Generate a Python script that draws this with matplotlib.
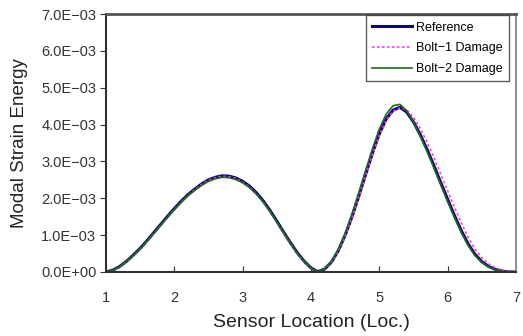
import numpy as np
import matplotlib
matplotlib.use("Agg")
import matplotlib.pyplot as plt

plt.rcParams['font.family'] = ['Liberation Sans', 'DejaVu Sans']

# sensor locations 1.0 .. 7.0 in steps of 0.1
loc = [round(1.0 + 0.1 * i, 1) for i in range(61)]

# modal strain energy (x 1e-3)
reference = [0.00, 0.05, 0.15, 0.29, 0.46, 0.64, 0.85, 1.07, 1.29, 1.51,
             1.72, 1.92, 2.10, 2.25, 2.39, 2.50, 2.57, 2.61, 2.60, 2.55,
             2.46, 2.33, 2.15, 1.93, 1.67, 1.38, 1.08, 0.79, 0.52, 0.29,
             0.11, 0.01, 0.08, 0.27, 0.58, 1.00, 1.50, 2.06, 2.65, 3.23,
             3.75, 4.15, 4.39, 4.47, 4.34, 4.07, 3.72, 3.32, 2.88, 2.42,
             1.97, 1.53, 1.12, 0.76, 0.48, 0.28, 0.15, 0.07, 0.02, 0.00,
             0.00]
bolt1 = [0.00, 0.04, 0.13, 0.27, 0.44, 0.62, 0.83, 1.05, 1.27, 1.49,
         1.70, 1.90, 2.08, 2.24, 2.38, 2.49, 2.56, 2.60, 2.59, 2.54,
         2.44, 2.31, 2.12, 1.90, 1.64, 1.35, 1.05, 0.76, 0.49, 0.27,
         0.10, 0.01, 0.08, 0.26, 0.56, 0.97, 1.47, 2.03, 2.61, 3.19,
         3.71, 4.11, 4.36, 4.45, 4.40, 4.20, 3.89, 3.52, 3.10, 2.65,
         2.20, 1.76, 1.33, 0.94, 0.62, 0.39, 0.22, 0.11, 0.05, 0.01,
         0.00]
bolt2 = [0.00, 0.05, 0.15, 0.29, 0.45, 0.63, 0.84, 1.05, 1.27, 1.49,
         1.69, 1.89, 2.07, 2.22, 2.35, 2.46, 2.53, 2.57, 2.56, 2.51,
         2.42, 2.29, 2.12, 1.90, 1.65, 1.36, 1.07, 0.78, 0.51, 0.29,
         0.11, 0.01, 0.09, 0.29, 0.61, 1.05, 1.58, 2.16, 2.76, 3.35,
         3.88, 4.28, 4.51, 4.55, 4.38, 4.06, 3.68, 3.27, 2.82, 2.36,
         1.91, 1.48, 1.07, 0.72, 0.45, 0.26, 0.14, 0.06, 0.02, 0.00,
         0.00]

yticks = [0, 1e-3, 2e-3, 3e-3, 4e-3, 5e-3, 6e-3, 7e-3]
ytick_labels = ['0.0E+00', '1.0E\u221203', '2.0E\u221203', '3.0E\u221203',
                '4.0E\u221203', '5.0E\u221203', '6.0E\u221203', '7.0E\u221203']

fig = plt.figure(figsize=(5.23, 3.36), dpi=100)
ax = fig.add_axes([0.2027, 0.1905, 0.7839, 0.7678])

x = np.array(loc)
ax.plot(x, np.array(reference) * 1e-3, color='#0a0a60', lw=2.2, label='Reference')
ax.plot(x, np.array(bolt1) * 1e-3, color='#ff33ff', lw=1.2, ls=(0, (1.5, 1.5)),
        label='Bolt\u22121 Damage')
ax.plot(x, np.array(bolt2) * 1e-3, color='#1a6b1a', lw=1.2, label='Bolt\u22122 Damage')

ax.set_xlim(1, 7)
ax.set_ylim(0, 7e-3)
ax.set_xticks(range(1, 8))
ax.set_yticks(yticks)
ax.set_yticklabels(ytick_labels)
ax.tick_params(axis='x', direction='in', length=4, pad=14, labelsize=10.5,
               colors='#333333')
ax.tick_params(axis='y', direction='out', length=4, pad=3, labelsize=10.5,
               colors='#333333')

for side in ['left', 'bottom']:
    ax.spines[side].set_color('#303030')
    ax.spines[side].set_linewidth(1.5)
ax.spines['top'].set_color('#555555')
ax.spines['top'].set_linewidth(2)
ax.spines['right'].set_color('#909090')
ax.spines['right'].set_linewidth(1.5)

ax.set_xlabel('Sensor Location (Loc.)', fontsize=14, color='#222222', labelpad=6)
ax.set_ylabel('Modal Strain Energy', fontsize=13.5, color='#222222', labelpad=9)

leg = ax.legend(loc='upper right', bbox_to_anchor=(0.985, 1.0), fontsize=9,
                frameon=True, fancybox=False, handlelength=3.2, handletextpad=0.3,
                borderpad=0.5, labelspacing=0.7, borderaxespad=0.1)
leg.get_frame().set_edgecolor('#333333')
leg.get_frame().set_linewidth(1)

fig.savefig('out.png', dpi=100)
